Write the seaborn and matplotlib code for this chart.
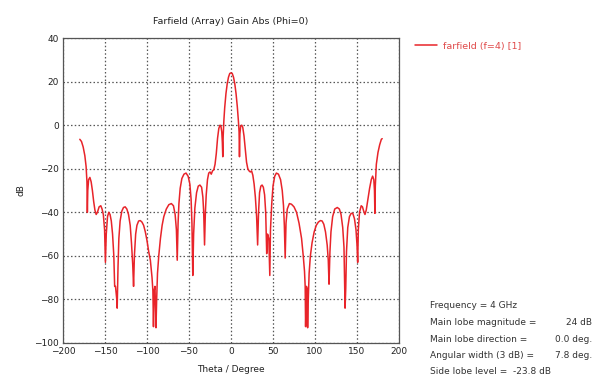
import matplotlib
matplotlib.use("Agg")
import matplotlib.pyplot as plt
import seaborn as sns
import pandas as pd

# ---- data ----
theta_left = [-180, -178, -176, -174, -172.5, -171.5, -171, -170.5, -169.5, -168, -166.5, -165,
              -163.5, -162, -160.5, -159, -157, -155, -153.5, -152, -150.5, -149.5, -148.5, -147,
              -145.5, -144, -142.5, -141, -139.5, -138.5, -137.5, -136, -135.5, -134.5, -133.5,
              -132, -130, -128, -126, -124, -122, -120, -118.5, -117, -116, -115, -113.5, -112,
              -110, -108, -106, -104, -102, -100, -98, -96, -94, -93, -92.3, -91.5, -90.5, -89.3,
              -88.5, -87.5, -86, -84, -82, -80, -77, -74, -71, -68.5, -66.5, -65, -64, -63, -62,
              -60.5, -58.5, -56, -53.5, -51, -49, -47.5, -46.5, -45.5, -44.5, -43, -41, -39, -37,
              -35, -33.5, -32.5, -31.5, -30.5, -29.5, -28, -26.5, -25, -23.5, -22, -20.5, -19,
              -17.5, -16, -14.5, -13, -12, -11, -10.3, -9.8, -9.3, -8.5, -7.5, -6, -4.5, -3, -1.5, 0]
gain_left = [-6.5, -7.5, -10, -14, -19, -26, -40, -30, -25, -24, -26, -30,
             -35, -39, -41, -40, -37.5, -37, -38.5, -41, -48, -63, -50, -42,
             -40, -41, -44, -50, -60, -74, -74, -80, -84, -65, -52,
             -44, -39.5, -37.8, -37.5, -38.5, -41, -46, -54, -64, -74, -60, -50, -46,
             -44, -43.8, -44.5, -46, -49, -53, -58, -62, -70, -76, -92.5, -76, -74, -93,
             -80, -68, -60, -52, -46, -42, -38.5, -36.5, -36, -37, -41, -48, -62, -45, -36,
             -29, -24.5, -22.5, -22, -23.5, -27, -34, -45, -69, -50, -38, -31, -28, -27.5,
             -28.5, -33, -40, -55, -40, -32, -25, -22, -21.5, -22.5, -21, -20.5, -18,
             -13, -6, -1.5, 0, -0.5, -3, -8, -14.5, -5, 2, 8, 14.5, 19, 22, 23.7, 24]

theta_right = [1.5, 3, 4.5, 6, 7.5, 8.8, 9.6, 10.1, 10.6, 11.5, 12.8, 14, 15.5, 17, 18.5, 20,
               21.5, 23, 24.5, 26, 27.5, 29, 30.5, 31.7, 32.8, 34, 35.5, 37, 38.5, 40, 41.3,
               42.5, 43.5, 45, 46.2, 47, 48.5, 50, 52, 54, 56.5, 59, 61, 62.5, 63.5, 64.5, 65.5,
               67, 69.5, 72, 75, 78, 81, 84, 86, 87.5, 88.3, 88.8, 89.8, 90.5, 91.2, 92, 93,
               94.5, 96.5, 99, 101.5, 104, 106.5, 108.5, 110.5, 112.5, 114.5, 115.8, 116.7,
               117.8, 119, 121, 123.5, 126.5, 129, 131, 133, 134.5, 135.3, 135.8, 136.6, 137.5,
               139, 141, 143, 145, 147, 148.8, 150, 150.8, 151.6, 153, 155, 156.5, 158, 159.5,
               161, 163, 165, 167, 168.6, 170, 170.8, 171.3, 171.8, 173, 175, 177, 179, 180]
gain_right = [23.7, 22, 19, 14.5, 8.5, 2, -3, -14.5, -4, -0.5, 0, -1, -5, -11, -17, -20,
              -21, -21.5, -21, -23, -27, -33, -42, -55, -40, -31, -28, -27.5, -28.5, -32, -40,
              -59, -50, -52, -69, -48, -36, -28, -23.5, -22, -22.5, -25, -30, -37, -46, -61, -45,
              -38.5, -36, -36.3, -37.5, -40, -45, -52, -60, -67, -74, -92.5, -74, -75, -93, -80, -68,
              -60, -54, -49, -46, -44.5, -43.8, -44, -45.5, -49, -55, -62, -73,
              -58, -49, -42, -38.5, -37.8, -38.5, -41, -47, -56, -73, -84, -75, -58,
              -47, -42, -40.5, -40.5, -43, -48, -55, -63, -48, -40, -37, -37.5, -39.5, -41,
              -39, -34, -29, -25, -23.4, -25, -30, -40.5, -28, -18, -12.5, -9, -6.5, -6.2]

x_ticks = [-200, -150, -100, -50, 0, 50, 100, 150, 200]
y_ticks = [-100, -80, -60, -40, -20, 0, 20, 40]
series_label = "farfield (f=4) [1]"
title = "Farfield (Array) Gain Abs (Phi=0)"
info_labels = ["Frequency = 4 GHz", "Main lobe magnitude =", "Main lobe direction =",
               "Angular width (3 dB) =", "Side lobe level =  -23.8 dB"]
info_values = ["", "24 dB", "0.0 deg.", "7.8 deg.", ""]

df = pd.DataFrame({"Theta": theta_left + theta_right, "Gain": gain_left + gain_right})

sns.set_style("white")
plt.rcParams["font.family"] = ["DejaVu Sans"]

W, H = 603, 379
fig = plt.figure(figsize=(W / 100, H / 100), dpi=100)
ax = fig.add_axes([63 / W, 1 - 343 / H, (399 - 63) / W, (343 - 38) / H])

red = "#e8242a"
sns.lineplot(data=df, x="Theta", y="Gain", ax=ax, color=red, linewidth=1.1,
             estimator=None, sort=True, label=series_label, legend=False)

ax.set_xlim(-200, 200)
ax.set_ylim(-100, 40)
ax.set_xticks(x_ticks)
ax.set_yticks(y_ticks)
ax.tick_params(axis="both", length=0, labelsize=6.5, colors="#222222", pad=3)
ax.grid(True, color="#555555", linestyle=(0, (1.2, 1.8)), linewidth=0.9)
for s in ax.spines.values():
    s.set_color("#555555")
    s.set_linewidth(0.9)

ax.set_xlabel("Theta / Degree", fontsize=6.5, color="#222222", labelpad=6)
ax.set_ylabel("dB", fontsize=6.5, color="#222222", labelpad=6)
ax.set_title(title, fontsize=6.8, color="#222222", pad=10)

h, l = ax.get_legend_handles_labels()
leg = fig.legend(h, l, loc="upper left", bbox_to_anchor=(406 / W, 1 - 33 / H),
                 frameon=False, fontsize=6.8, handlelength=2.4, handletextpad=0.6)
for t in leg.get_texts():
    t.set_color("#e04a4a")

ys = [306, 322.5, 339, 355.5, 371.5]
for lab, val, y in zip(info_labels, info_values, ys):
    fig.text(430 / W, 1 - y / H, lab, fontsize=6.5, color="#333333", va="center", ha="left")
    if val:
        fig.text(592 / W, 1 - y / H, val, fontsize=6.5, color="#333333", va="center", ha="right")

fig.savefig("out.png", dpi=100, facecolor="white")
